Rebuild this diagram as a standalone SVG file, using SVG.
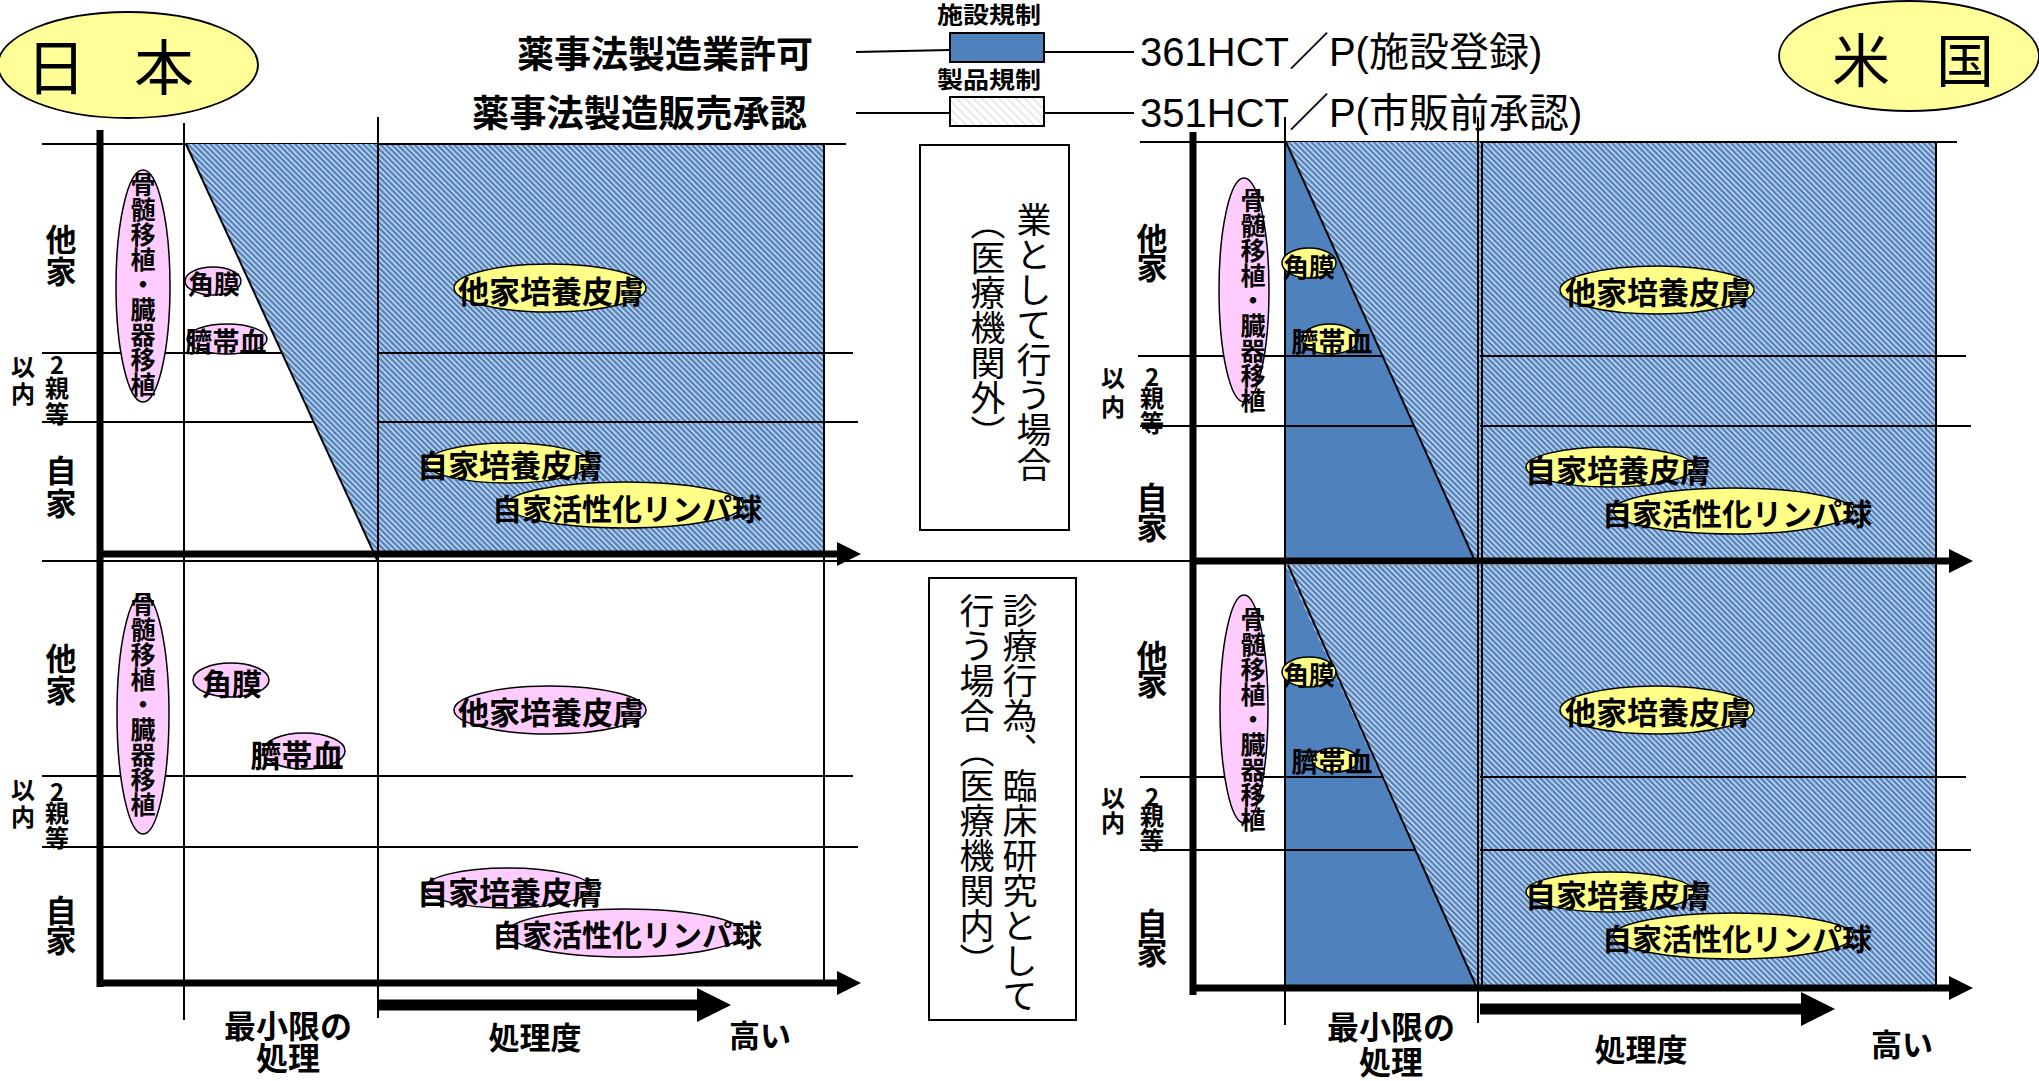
<svg xmlns="http://www.w3.org/2000/svg" width="2039" height="1081" viewBox="0 0 2039 1081">
<style>
.t{font-family:"Noto Sans CJK JP","Noto Sans CJK SC",sans-serif;fill:#000}
.b{font-weight:bold}
.c{text-anchor:middle;dominant-baseline:central}
.v{writing-mode:vertical-rl;text-anchor:start}
.g{stroke:#000;stroke-width:2;fill:none}
.ax{stroke:#000;stroke-width:7;fill:none}
.pk{fill:#FFCCFF;stroke:#000;stroke-width:1.5}
.yl{fill:#FFFF88;stroke:#000;stroke-width:1.5}
.hz{fill:url(#hatch)}
.lat{font-family:"Liberation Sans","Noto Sans CJK JP",sans-serif;fill:#000}
</style>
<defs>
<pattern id="hatch" patternUnits="userSpaceOnUse" width="4" height="4" patternTransform="rotate(-45)">
<rect width="4" height="4" fill="#4F81BD"/>
<rect width="1.5" height="4" fill="#D5E1F1"/>
</pattern>
<pattern id="hatchL" patternUnits="userSpaceOnUse" width="6" height="6" patternTransform="rotate(-45)">
<rect width="6" height="6" fill="#FFFFFF"/>
<rect width="1.5" height="6" fill="#E2E2E2"/>
</pattern>
<marker id="axh" viewBox="0 0 24 24" markerWidth="24" markerHeight="24" refX="0" refY="12" orient="auto" markerUnits="userSpaceOnUse"><path d="M0,0 L24,12 L0,24 z" fill="#000"/></marker>
<marker id="pah" viewBox="0 0 34 34" markerWidth="34" markerHeight="34" refX="0" refY="17" orient="auto" markerUnits="userSpaceOnUse"><path d="M0,0 L34,17 L0,34 z" fill="#000"/></marker>
</defs>
<rect width="2039" height="1081" fill="#fff"/>

<!-- Titles -->
<g id="title-japan">
<ellipse cx="128" cy="65" rx="130" ry="53" fill="#FFFF99" stroke="#000" stroke-width="1.8"/>
<text class="t c" x="56" y="63" font-size="60">日</text>
<text class="t c" x="164" y="63" font-size="60">本</text>
</g>
<g id="title-usa">
<ellipse cx="1909" cy="56" rx="130" ry="55" fill="#FFFF99" stroke="#000" stroke-width="1.8"/>
<text class="t c" x="1861" y="57" font-size="58">米</text>
<text class="t c" x="1965" y="57" font-size="58">国</text>
</g>

<!-- Legend -->
<g id="legend-facility">
<text class="t b c" x="989" y="13" font-size="23" textLength="104" lengthAdjust="spacingAndGlyphs">施設規制</text>
<rect x="950" y="33" width="94" height="29" fill="#4F81BD" stroke="#000" stroke-width="2"/>
<text class="t b" x="517" y="52" font-size="37" dominant-baseline="central" textLength="296" lengthAdjust="spacingAndGlyphs">薬事法製造業許可</text>
<text class="lat" x="1140" y="52" font-size="40" dominant-baseline="central">361HCT／P(施設登録)</text>
</g>
<g id="legend-product">
<text class="t b c" x="989" y="78" font-size="23" textLength="104" lengthAdjust="spacingAndGlyphs">製品規制</text>
<rect x="950" y="97" width="94" height="29" fill="url(#hatchL)" stroke="#000" stroke-width="2"/>
<text class="t b" x="472" y="111" font-size="37" dominant-baseline="central" textLength="335" lengthAdjust="spacingAndGlyphs">薬事法製造販売承認</text>
<text class="lat" x="1140" y="113" font-size="40" dominant-baseline="central">351HCT／P(市販前承認)</text>
</g>

<!-- Left chart (Japan) backgrounds -->
<rect class="hz" x="378" y="144" width="446" height="410"/>
<!-- Right chart (USA) backgrounds -->
<rect class="hz" x="1285" y="142" width="651" height="419"/>
<rect class="hz" x="1285" y="565" width="651" height="423"/>
<polygon points="1285,142 1475,561 1285,561" fill="#4F81BD"/>
<polygon points="1285,565 1477,988 1285,988" fill="#4F81BD"/>

<!-- grid horizontal lines -->
<g id="grid-h">
<line class="g" x1="42" y1="144" x2="846" y2="144"/>
<line class="g" x1="42" y1="353" x2="853" y2="353"/>
<line class="g" x1="42" y1="422" x2="858" y2="422"/>
<line class="g" x1="42" y1="561" x2="1193" y2="561"/>
<line class="g" x1="42" y1="776" x2="853" y2="776"/>
<line class="g" x1="42" y1="847" x2="858" y2="847"/>
<line class="g" x1="1140" y1="142" x2="1957" y2="142"/>
<line class="g" x1="1138" y1="356" x2="1966" y2="356"/>
<line class="g" x1="1140" y1="426" x2="1971" y2="426"/>
<line class="g" x1="1140" y1="777" x2="1966" y2="777"/>
<line class="g" x1="1140" y1="850" x2="1971" y2="850"/>
</g>

<!-- hatched overlays between diagonal and column line -->
<polygon class="hz" points="186,144 378,144 378,562"/>
<polygon class="hz" points="1286,142 1480,142 1480,561 1475,561"/>
<polygon class="hz" points="1288,565 1480,565 1480,988 1477,988"/>

<!-- grid vertical lines -->
<g id="grid-v">
<line class="g" x1="184" y1="123" x2="184" y2="1020"/>
<line class="g" x1="378" y1="117" x2="378" y2="1018"/>
<line class="g" x1="824" y1="144" x2="824" y2="983"/>
<line class="g" x1="1285" y1="117" x2="1285" y2="1025"/>
<line class="g" x1="1478" y1="117" x2="1478" y2="1023"/>
<line class="g" x1="1482" y1="142" x2="1482" y2="988"/>
<line class="g" x1="1936" y1="142" x2="1936" y2="988"/>
<line class="g" x1="186" y1="144" x2="378" y2="562"/>
<line class="g" x1="1286" y1="142" x2="1475" y2="561"/>
<line class="g" x1="1288" y1="565" x2="1477" y2="988"/>
</g>

<!-- axes -->
<g id="axes">
<line class="ax" x1="100" y1="130" x2="100" y2="987"/>
<line class="ax" x1="97" y1="554" x2="837" y2="554" marker-end="url(#axh)"/>
<line class="ax" x1="97" y1="983" x2="837" y2="983" marker-end="url(#axh)"/>
<line class="ax" x1="1193" y1="132" x2="1193" y2="995"/>
<line class="ax" x1="1190" y1="561" x2="1949" y2="561" marker-end="url(#axh)"/>
<line class="ax" x1="1190" y1="988" x2="1949" y2="988" marker-end="url(#axh)"/>
<line x1="378" y1="1005" x2="697" y2="1005" stroke="#000" stroke-width="11" marker-end="url(#pah)"/>
<line x1="1480" y1="1009" x2="1801" y2="1009" stroke="#000" stroke-width="11" marker-end="url(#pah)"/>
</g>

<!-- connectors (legend leaders) -->
<g id="connectors">
<line class="g" x1="856" y1="52" x2="950" y2="50"/>
<line class="g" x1="856" y1="113" x2="950" y2="113"/>
<line class="g" x1="1044" y1="52" x2="1134" y2="52"/>
<line class="g" x1="1044" y1="113" x2="1134" y2="113"/>
</g>

<!-- row labels left -->
<g id="rowlabels-left" class="t b">
<text class="v" x="61" y="223.5" font-size="31" letter-spacing="1">他家</text>
<text class="c" x="57" y="363" font-size="24">2</text>
<text class="v" x="57" y="376" font-size="24" letter-spacing="2">親等</text>
<text class="v" x="23" y="355" font-size="24" letter-spacing="3">以内</text>
<text class="v" x="61" y="454.5" font-size="31" letter-spacing="2">自家</text>
<text class="v" x="61" y="642.5" font-size="31" letter-spacing="1">他家</text>
<text class="c" x="57" y="790" font-size="24">2</text>
<text class="v" x="57" y="801" font-size="24" letter-spacing="1">親等</text>
<text class="v" x="23" y="778" font-size="24" letter-spacing="3">以内</text>
<text class="v" x="61" y="894.5" font-size="31" letter-spacing="-1">自家</text>
</g>
<g id="rowlabels-right" class="t b">
<text class="v" x="1152" y="222.5" font-size="31" letter-spacing="-2">他家</text>
<text class="c" x="1152" y="375" font-size="24">2</text>
<text class="v" x="1152" y="386" font-size="24" letter-spacing="1">親等</text>
<text class="v" x="1113" y="366" font-size="24" letter-spacing="5">以内</text>
<text class="v" x="1152" y="481.5" font-size="31" letter-spacing="-1">自家</text>
<text class="v" x="1152" y="639.5" font-size="31" letter-spacing="-3">他家</text>
<text class="c" x="1152" y="795" font-size="24">2</text>
<text class="v" x="1152" y="804" font-size="24" letter-spacing="0">親等</text>
<text class="v" x="1113" y="786" font-size="24" letter-spacing="1">以内</text>
<text class="v" x="1152" y="907.5" font-size="31" letter-spacing="-2">自家</text>
</g>

<!-- axis labels -->
<g id="axislabels" class="t b">
<text text-anchor="middle" font-size="32"><tspan x="288" y="1038">最小限の</tspan><tspan x="288" y="1070">処理</tspan></text>
<text class="c" x="535" y="1035" font-size="31">処理度</text>
<text class="c" x="760" y="1033" font-size="31">高い</text>
<text text-anchor="middle" font-size="32"><tspan x="1391" y="1039">最小限の</tspan><tspan x="1391" y="1074">処理</tspan></text>
<text class="c" x="1641" y="1047" font-size="31">処理度</text>
<text class="c" x="1902" y="1042" font-size="31">高い</text>
</g>

<!-- middle boxes -->
<g id="box-business">
<rect x="920" y="145" width="149" height="385" fill="#fff" stroke="#000" stroke-width="2"/>
<text class="t v" x="1034" y="202" font-size="35">業として行う場合</text>
<text class="t v" x="988" y="205" font-size="35">（医療機関外）</text>
</g>
<g id="box-clinical">
<rect x="929" y="578" width="147" height="442" fill="#fff" stroke="#000" stroke-width="2"/>
<text class="t v" x="1020" y="593" font-size="35">診療行為、臨床研究として</text>
<text class="t v" x="977" y="593" font-size="35">行う場合（医療機関内）</text>
</g>

<!-- Japan upper nodes -->
<g id="jp1-bonemarrow"><ellipse class="pk" cx="143" cy="286" rx="27" ry="116"/><text class="t b v" x="143" y="172" font-size="25">骨髄移植・臓器移植</text></g>
<g id="jp1-cornea"><ellipse class="pk" cx="213" cy="281" rx="28" ry="14"/><text class="t b c" x="214" y="282" font-size="26">角膜</text></g>
<g id="jp1-cord"><ellipse class="pk" cx="227" cy="339" rx="40" ry="15"/><text class="t b c" x="226" y="340" font-size="27">臍帯血</text></g>
<g id="jp1-allo-skin"><ellipse class="yl" cx="550" cy="288" rx="96" ry="24"/><text class="t b c" x="551" y="289" font-size="31">他家培養皮膚</text></g>
<g id="jp1-auto-skin"><ellipse class="yl" cx="508" cy="463" rx="82" ry="20"/><text class="t b c" x="510" y="463" font-size="31">自家培養皮膚</text></g>
<g id="jp1-lymph"><ellipse class="yl" cx="625" cy="505" rx="118" ry="23"/><text class="t b c" x="627" y="507" font-size="30">自家活性化リンパ球</text></g>

<!-- Japan lower nodes -->
<g id="jp2-bonemarrow"><ellipse class="pk" cx="143" cy="714" rx="26" ry="120"/><text class="t b v" x="143" y="592" font-size="25">骨髄移植・臓器移植</text></g>
<g id="jp2-cornea"><ellipse class="pk" cx="231" cy="680" rx="38" ry="17"/><text class="t b c" x="232" y="682" font-size="30">角膜</text></g>
<g id="jp2-cord"><ellipse class="pk" cx="304" cy="751" rx="41" ry="18"/><text class="t b c" x="297" y="753" font-size="31">臍帯血</text></g>
<g id="jp2-allo-skin"><ellipse class="pk" cx="550" cy="710" rx="96" ry="24"/><text class="t b c" x="551" y="710" font-size="31">他家培養皮膚</text></g>
<g id="jp2-auto-skin"><ellipse class="pk" cx="508" cy="888" rx="83" ry="20"/><text class="t b c" x="510" y="890" font-size="31">自家培養皮膚</text></g>
<g id="jp2-lymph"><ellipse class="pk" cx="625" cy="933" rx="118" ry="24"/><text class="t b c" x="627" y="933" font-size="30">自家活性化リンパ球</text></g>

<!-- USA upper nodes -->
<g id="us1-bonemarrow"><ellipse class="pk" cx="1244" cy="290" rx="25" ry="112"/><text class="t b v" x="1253" y="188" font-size="25">骨髄移植・臓器移植</text></g>
<g id="us1-cornea"><ellipse class="yl" cx="1309" cy="263" rx="27" ry="15"/><text class="t b c" x="1309" y="265" font-size="26">角膜</text></g>
<g id="us1-cord"><ellipse class="yl" cx="1330" cy="339" rx="28" ry="15"/><text class="t b c" x="1332" y="340" font-size="27">臍帯血</text></g>
<g id="us1-allo-skin"><ellipse class="yl" cx="1657" cy="290" rx="97" ry="24"/><text class="t b c" x="1658" y="290" font-size="31">他家培養皮膚</text></g>
<g id="us1-auto-skin"><ellipse class="yl" cx="1610" cy="467" rx="84" ry="20"/><text class="t b c" x="1618" y="468" font-size="31">自家培養皮膚</text></g>
<g id="us1-lymph"><ellipse class="yl" cx="1733" cy="511" rx="120" ry="23"/><text class="t b c" x="1737" y="512" font-size="30">自家活性化リンパ球</text></g>

<!-- USA lower nodes -->
<g id="us2-bonemarrow"><ellipse class="pk" cx="1244" cy="709" rx="24" ry="114"/><text class="t b v" x="1253" y="607" font-size="25">骨髄移植・臓器移植</text></g>
<g id="us2-cornea"><ellipse class="yl" cx="1309" cy="672" rx="27" ry="15"/><text class="t b c" x="1309" y="673" font-size="26">角膜</text></g>
<g id="us2-cord"><ellipse class="yl" cx="1335" cy="760" rx="23" ry="12"/><text class="t b c" x="1332" y="760" font-size="27">臍帯血</text></g>
<g id="us2-allo-skin"><ellipse class="yl" cx="1657" cy="710" rx="97" ry="24"/><text class="t b c" x="1658" y="710" font-size="31">他家培養皮膚</text></g>
<g id="us2-auto-skin"><ellipse class="yl" cx="1610" cy="892" rx="84" ry="20"/><text class="t b c" x="1618" y="893" font-size="31">自家培養皮膚</text></g>
<g id="us2-lymph"><ellipse class="yl" cx="1733" cy="936" rx="120" ry="23"/><text class="t b c" x="1737" y="937" font-size="30">自家活性化リンパ球</text></g>
</svg>
